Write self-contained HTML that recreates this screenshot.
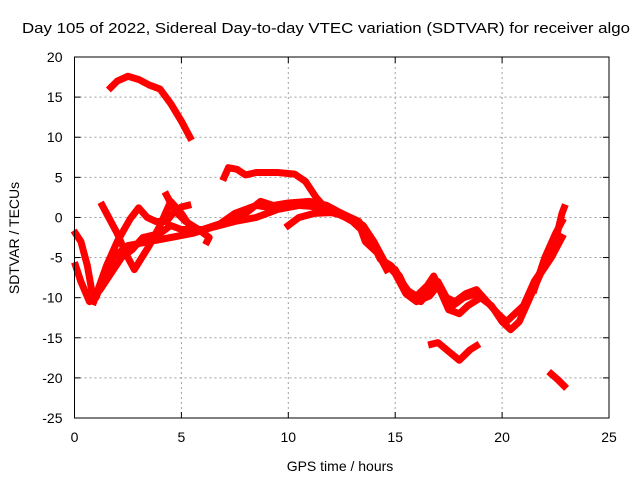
<!DOCTYPE html>
<html><head><meta charset="utf-8"><style>
html,body{margin:0;padding:0;background:#fff;}
svg text{font-family:"Liberation Sans",sans-serif;fill:#000;}
</style></head><body>
<svg id="chart" width="640" height="480" xmlns="http://www.w3.org/2000/svg">
<rect width="640" height="480" fill="#fff"/>
<text x="22" y="33" font-size="15" textLength="608" lengthAdjust="spacingAndGlyphs">Day 105 of 2022, Sidereal Day-to-day VTEC variation (SDTVAR) for receiver algo</text>
<text x="340" y="471" font-size="14" text-anchor="middle">GPS time / hours</text>
<text x="19" y="238" font-size="14" text-anchor="middle" transform="rotate(-90 19 238)">SDTVAR / TECUs</text>
<g id="grid"></g><g id="series"></g><g id="axes"></g>
</svg>
<script>
const xTicks=[0,5,10,15,20,25];
const yTicks=[20,15,10,5,0,-5,-10,-15,-20,-25];
const trackTop=[[1.7,16.2],[2.0,17],[2.5,17.6],[3.0,17.2],[3.5,16.5],[4.0,16.0],[4.5,14.2],[5.0,12],[5.4,10]];
const trackUpper=[[7.0,5],[7.2,6.2],[7.6,6],[8.0,5.3],[8.5,5.6],[9.5,5.6],[10.3,5.4],[10.8,4.5],[11.3,2.5],[11.8,1],[12.5,0.2],[13.2,-0.5],[13.7,-2],[14.0,-3.5],[14.3,-5.2],[14.8,-6],[15.2,-7.3],[15.5,-9],[16,-9.8],[16.5,-8.5],[16.8,-7.3],[17.2,-9.5],[17.7,-11],[18.2,-10],[18.8,-9.5]];
const trackA=[[0.05,-2],[0.3,-3],[0.6,-6],[0.8,-9],[1.0,-10],[1.3,-8],[1.8,-5],[2.5,-3.5],[3.5,-3],[4.5,-2.5],[5.5,-2],[6.5,-1.2],[7.5,-0.5],[8.5,0],[9.5,1],[10.5,1.5],[11.5,1.5],[12.5,0.5],[13.3,-0.5],[13.8,-2.5],[14.2,-4.5],[14.6,-6],[15.0,-6.5],[15.3,-8],[15.7,-9.5],[16.2,-10.5],[16.6,-9],[17.0,-8],[17.4,-10],[17.8,-10.5],[18.3,-9.5],[18.8,-9],[19.3,-10.5],[19.8,-12],[20.2,-13],[20.6,-12],[21.0,-11],[21.5,-8],[22.0,-6],[22.4,-4],[22.8,0.5],[22.9,1.2]];
const trackB=[[0.05,-6],[0.3,-8],[0.7,-10.5],[1.2,-9],[1.7,-7],[2.2,-5],[2.7,-4],[3.2,-2.5],[4,-2],[4.5,-1],[5,-1.5],[6,-1.5],[7,-0.8],[8,0.5],[8.7,2],[9.3,1.5],[10,1.8],[11,2],[11.8,1.5],[12.5,0.5],[13.5,-1],[14,-3],[14.5,-5.5],[15,-7],[15.5,-9.5],[16,-10.5],[16.6,-9.8],[17,-8.5],[17.5,-11.5],[18,-12],[18.4,-11],[19,-10],[19.5,-11],[20,-13],[20.4,-14],[20.8,-13],[21.3,-10],[21.8,-7],[22.3,-5],[22.8,-2.5]];
const trackC=[[1.3,1.5],[1.6,0],[2.0,-2],[2.4,-4.5],[2.8,-6.5],[3.5,-3.5],[4.0,-1],[4.5,2],[5.0,0.5],[5.5,-1.5],[6,-1.5],[6.8,-0.8],[7.5,0.5],[8,1],[8.5,1.5],[9.2,1.2],[10,1.6],[11,1.4],[12,1],[13,-0.5],[13.4,-1.5],[13.6,-3],[14.2,-4.5],[14.6,-6.5]];
const trackD=[[0.9,-10.5],[1.5,-6],[2,-3],[2.6,-0.2],[3.0,1.2],[3.4,0],[3.8,-0.5],[4.3,-0.5],[4.6,0.5],[5.0,1.3],[5.3,1.5]];
const trackE=[[4.3,2.8],[4.7,0.8],[5.2,-0.5],[5.8,-1.5],[6.3,-2.5],[6.2,-3]];
const trackF=[[10,-1],[10.5,0],[11.2,0.5],[12.0,0.6],[12.5,0.3]];
const trackG=[[21.5,-9],[22.0,-5],[22.5,-2],[22.8,-0.5]];
const trackTail1=[[16.7,-15.8],[17.0,-15.6],[17.5,-16.7],[18.0,-17.8],[18.5,-16.5],[18.8,-16]];
const trackTail2=[[22.3,-19.5],[22.6,-20.2],[22.9,-21]];
const tracks=[trackTop,trackUpper,trackA,trackB,trackC,trackD,trackE,trackF,trackG,trackTail1,trackTail2];

const X0=74.5,X1=609,Y0=418,Y1=57;
const sx=v=>X0+(v-0)/(25-0)*(X1-X0);
const sy=v=>Y0-(v-(-25))/(20-(-25))*(Y0-Y1);
const NS="http://www.w3.org/2000/svg";
function mk(t,a,p){const e=document.createElementNS(NS,t);for(const k in a)e.setAttribute(k,a[k]);p.appendChild(e);return e;}
const grid=document.getElementById('grid'),axes=document.getElementById('axes'),ser=document.getElementById('series');
xTicks.forEach(t=>{
  if(t>0&&t<25){const g=mk('line',{x1:sx(t),x2:sx(t),y1:Y1,y2:Y0,stroke:'#a0a0a0','stroke-dasharray':'2,3','stroke-width':1},grid);
  
  }
  const l=mk('text',{x:sx(t),y:Y0+24,'font-size':14,'text-anchor':'middle'},axes);l.textContent=t;
  
  
  mk('line',{x1:sx(t),x2:sx(t),y1:Y0,y2:Y0-6,stroke:'#000'},axes);
  mk('line',{x1:sx(t),x2:sx(t),y1:Y1,y2:Y1+6,stroke:'#000'},axes);
});
yTicks.forEach(t=>{
  if(t>-25&&t<20){const g=mk('line',{x1:X0,x2:X1,y1:sy(t),y2:sy(t),stroke:'#a0a0a0','stroke-dasharray':'2,3','stroke-width':1},grid);
  
  }
  const l=mk('text',{x:X0-12,y:sy(t)+5,'font-size':14,'text-anchor':'end'},axes);l.textContent=t;
  
  
  mk('line',{x1:X0,x2:X0+6,y1:sy(t),y2:sy(t),stroke:'#000'},axes);
  mk('line',{x1:X1,x2:X1-6,y1:sy(t),y2:sy(t),stroke:'#000'},axes);
});
const fr=mk('rect',{x:X0,y:Y1,width:X1-X0,height:Y0-Y1,fill:'none',stroke:'#000'},axes);


tracks.forEach((tr,i)=>{
  const p=mk('polyline',{points:tr.map(d=>sx(d[0])+','+sy(d[1])).join(' '),fill:'none',stroke:'#ff0000','stroke-width':7,'stroke-linejoin':'round','stroke-linecap':'square'},ser);
  
  
});
</script>
</body></html>
